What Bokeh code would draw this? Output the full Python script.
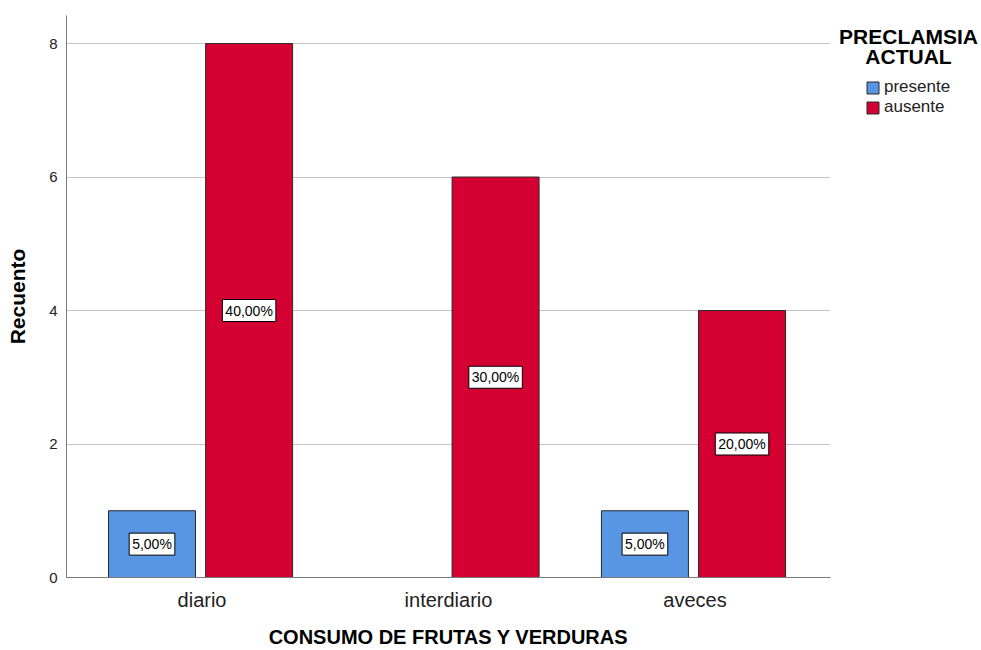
from bokeh.plotting import figure
from bokeh.layouts import row
from bokeh.models import ColumnDataSource, FactorRange, Legend, LegendItem, Label, FixedTicker, Range1d
from bokeh.transform import dodge
from bokeh.core.properties import value
from bokeh.embed import file_html
from bokeh.resources import INLINE

categories = ["diario", "interdiario", "aveces"]
presente = [1, 0, 1]
ausente = [8, 6, 4]
presente_pct = ["5,00%", "", "5,00%"]
ausente_pct = ["40,00%", "30,00%", "20,00%"]
y_ticks = [0, 2, 4, 6, 8]
series_names = ["presente", "ausente"]
legend_title = ["PRECLAMSIA", "ACTUAL"]

FONT = "Liberation Sans"
BLUE = "#5895E2"
RED = "#D40032"
EDGE = "#2A2A2A"
SHIFT = -0.006
OFF = 0.197
BW = 0.353

src_p = ColumnDataSource(dict(cat=categories, val=presente))
src_a = ColumnDataSource(dict(cat=categories, val=ausente))

lab_x, lab_y, lab_t = [], [], []
for c, v, t in zip(categories, presente, presente_pct):
    if v > 0:
        lab_x.append(c); lab_y.append(v / 2); lab_t.append(t)
src_lp = ColumnDataSource(dict(cat=lab_x, mid=lab_y, txt=lab_t))
src_la = ColumnDataSource(dict(cat=categories, mid=[v / 2 for v in ausente], txt=ausente_pct))

p = figure(x_range=FactorRange(factors=categories, range_padding=0.0333),
           y_range=Range1d(0, 8.42), width=830, height=650,
           min_border_left=66, min_border_right=0, min_border_top=15, min_border_bottom=73,
           output_backend="svg", toolbar_location=None, tools="")

p.vbar(x=dodge("cat", SHIFT - OFF, range=p.x_range), top="val", width=BW, source=src_p,
       fill_color=BLUE, line_color=EDGE, line_width=1)
p.vbar(x=dodge("cat", SHIFT + OFF, range=p.x_range), top="val", width=BW, source=src_a,
       fill_color=RED, line_color=EDGE, line_width=1)

for s, off in ((src_lp, SHIFT - OFF), (src_la, SHIFT + OFF)):
    p.text(x=dodge("cat", off, range=p.x_range), y="mid", text="txt", source=s,
           text_font=value(FONT), text_font_size="14px", text_color="black",
           text_align="center", text_baseline="middle",
           background_fill_color="white", border_line_color="black", border_line_width=1,
           padding=3)

p.outline_line_color = None
p.xgrid.grid_line_color = None
p.ygrid.grid_line_color = "#C4C4C4"
p.ygrid.ticker = FixedTicker(ticks=[2, 4, 6, 8])

p.yaxis.ticker = FixedTicker(ticks=y_ticks)
for ax in (p.xaxis[0], p.yaxis[0]):
    ax.axis_line_color = "#7A7A7A"
    ax.major_tick_line_color = None
    ax.minor_tick_line_color = None
    ax.major_tick_out = 0
    ax.major_tick_in = 0
    ax.axis_label_text_font = FONT
    ax.axis_label_text_font_style = "bold"
    ax.axis_label_text_color = "black"
    ax.major_label_text_font = FONT
    ax.major_label_text_color = "#222222"

p.yaxis.axis_label = "Recuento"
p.yaxis.axis_label_text_font_size = "21px"
p.yaxis.major_label_text_font_size = "15px"
p.yaxis.major_label_standoff = 9
p.yaxis.axis_label_standoff = 17

p.xaxis.axis_label = "CONSUMO DE FRUTAS Y VERDURAS"
p.xaxis.axis_label_text_font_size = "20px"
p.xaxis.major_label_text_font_size = "20px"
p.xaxis.major_label_standoff = 11
p.xaxis.axis_label_standoff = 12

# legend panel (separate figure to the right of the chart)
q = figure(width=151, height=650, x_range=Range1d(0, 1), y_range=Range1d(0, 1),
           x_axis_location=None, y_axis_location=None,
           min_border_left=0, min_border_right=0, min_border_top=15, min_border_bottom=73,
           output_backend="svg", toolbar_location=None, tools="")
q.outline_line_color = None
q.grid.visible = False
# legend-only proxies, placed far outside this panel's canvas so nothing is drawn
dp = q.vbar(x=[-5], top=[-5], bottom=[-6], width=0.1, fill_color=BLUE, line_color=EDGE, line_width=1)
da = q.vbar(x=[-5], top=[-5], bottom=[-6], width=0.1, fill_color=RED, line_color=EDGE, line_width=1)

legend = Legend(items=[LegendItem(label=series_names[0], renderers=[dp]),
                       LegendItem(label=series_names[1], renderers=[da])],
                location=(35, 460), padding=0, margin=0, spacing=0,
                glyph_width=15, glyph_height=15, label_height=20, label_standoff=4,
                label_text_font=FONT, label_text_font_size="17px", label_text_color="#222222",
                border_line_color=None, background_fill_color=None)
q.add_layout(legend, "center")

for txt, yy in zip(legend_title, (541, 521)):
    q.add_layout(Label(x=78, y=yy, x_units="screen", y_units="screen", text=txt,
                       text_font=FONT, text_font_size="21px", text_font_style="bold",
                       text_align="center", text_baseline="middle", text_color="black"))

layout = row(p, q, spacing=0)
open("out.html", "w").write(file_html(layout, INLINE))
